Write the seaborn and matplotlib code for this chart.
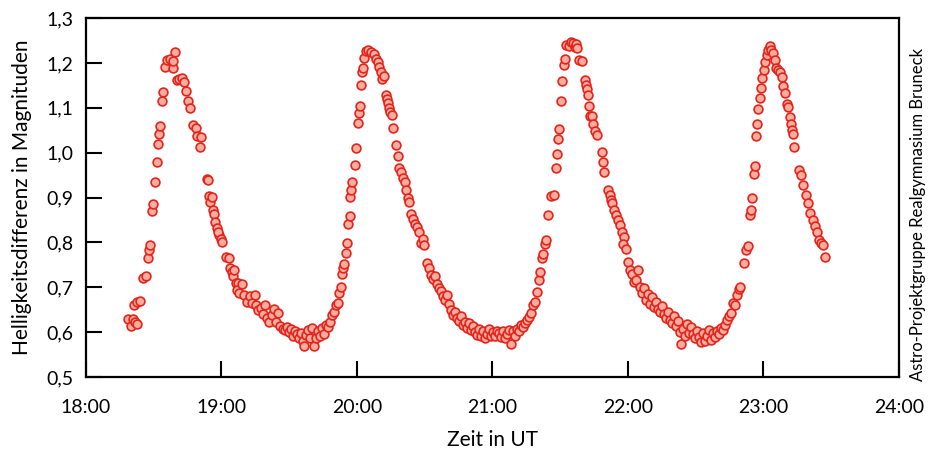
import matplotlib
matplotlib.use("Agg")
import numpy as np
import pandas as pd
import matplotlib.pyplot as plt
import seaborn as sns
from matplotlib import font_manager
from matplotlib.ticker import FuncFormatter

# Minuten nach 18:00 UT
zeit_min = [
    18.6, 19.9, 20.8, 21.7, 22.6, 21.3, 22.6, 23.9, 25.2, 26.6, 27.5, 27.9, 28.3, 29.2, 29.7,
    30.6, 31.5, 31.9, 32.3, 32.8, 33.6, 34.1, 35.0, 35.9, 37.2, 38.5, 39.4, 38.5,
    40.3, 41.2, 42.5, 43.4, 44.3, 45.2, 46.1, 47.4, 48.7, 49.2, 50.5, 50.9, 53.6, 54.0, 54.5,
    54.9, 55.8, 56.2, 56.7, 57.1, 58.0, 58.9, 58.5, 59.8, 60.2, 62.0, 63.3, 63.8, 64.6, 65.1,
    65.5, 66.4, 67.3, 66.9, 67.7, 69.1, 70.0, 71.3, 72.6, 73.5, 74.8, 75.3, 76.2, 77.5, 78.4,
    79.3, 80.1, 81.0, 82.4, 83.2, 84.1, 85.0, 85.9, 87.2, 88.1, 89.0, 89.9, 90.8, 91.7, 92.5,
    93.4, 94.3, 95.2, 96.1, 96.5, 97.4, 98.3, 99.2, 100.1, 101.0, 101.8, 102.7, 103.6, 104.5,
    105.4, 106.3, 107.2, 108.0, 108.9, 109.8, 110.7, 111.6, 112.0, 112.9, 113.4, 113.8, 114.2,
    115.1, 115.6, 116.0, 116.9, 116.9, 117.3, 117.8, 119.1, 119.6, 120.4, 120.9, 121.3, 121.8,
    122.2, 122.7, 123.1, 124.0, 124.9, 126.2,
    127.5, 128.4, 129.3, 129.7, 130.6, 131.1, 131.9, 132.8, 133.3, 133.7, 134.2, 134.6, 135.5,
    135.9, 137.3, 138.2, 138.6, 139.5, 140.4, 141.3, 141.7, 142.6, 143.0, 143.9, 144.8, 145.7,
    146.6, 147.4, 148.3, 149.2, 149.7, 151.0, 151.9, 152.8, 153.6, 154.5, 155.4, 156.3, 157.2,
    158.1, 159.0, 159.8, 160.7, 161.6, 162.5, 163.4, 164.3, 165.2, 166.0, 166.9, 167.8, 168.7,
    169.6, 170.5, 171.4, 172.2, 173.1, 174.0, 174.9, 175.8, 176.7, 177.6, 178.5, 179.3, 180.2,
    181.1, 182.0, 182.9, 183.8, 184.6, 185.5, 186.4, 187.3, 188.2, 189.1, 190.0, 190.8, 191.7,
    192.6, 193.5, 194.4, 195.3, 196.2, 197.0, 197.9, 198.8, 199.7, 200.6, 201.0, 201.9, 202.4,
    203.2, 203.7, 204.6, 205.9, 207.2, 208.1, 208.6, 209.0, 209.4, 210.3, 210.8, 211.7, 212.1,
    212.6, 213.9, 214.8, 215.7, 216.5, 217.0, 217.4,
    218.3, 219.6, 221.0, 221.4, 221.8, 222.3, 222.7, 223.2, 224.1, 224.5, 225.4, 226.3, 228.5,
    229.0, 229.4, 231.1, 232.0, 232.5, 232.9, 233.8, 234.7, 235.6, 236.5, 237.3, 238.2, 237.8,
    239.1, 240.0, 240.9, 241.8, 242.6, 243.5, 244.4, 245.3, 246.2, 247.1, 247.9, 248.8, 249.7,
    250.6, 251.5, 252.4, 253.3, 254.2, 255.0, 255.9, 256.8, 257.7, 258.6, 259.5, 260.4, 261.2,
    262.1, 263.0, 263.5, 264.4, 265.2, 266.1, 267.0, 267.9, 268.8, 269.7, 270.6, 271.4, 272.3,
    273.2, 274.1, 275.0, 275.9, 276.7, 277.6, 278.5, 279.4, 280.3, 281.2, 282.1, 282.9, 283.8,
    284.7, 285.6, 286.5, 287.4, 288.3, 289.1, 289.6, 291.4, 292.2, 293.1, 294.0, 294.5, 294.9,
    295.8, 296.3, 296.7, 297.2, 297.6, 298.5, 299.0, 299.4, 300.3, 300.7, 301.6, 302.0, 302.9,
    303.3, 304.2, 305.1,
    305.5, 306.4, 307.3, 308.2, 308.6, 309.5, 310.4, 310.8, 311.7, 312.2, 312.6, 313.1, 313.5,
    315.7, 316.6, 317.5, 318.8, 319.7, 320.6, 321.9, 322.8, 323.7, 324.6, 325.5, 326.3, 327.2,
]

# Helligkeitsdifferenz in Magnituden
delta_mag = [
    0.629, 0.614, 0.629, 0.623, 0.618, 0.660, 0.667, 0.669, 0.721, 0.725, 0.765, 0.783, 0.794, 0.870, 0.886,
    0.935, 0.979, 1.019, 1.042, 1.059, 1.115, 1.135, 1.191, 1.206, 1.209, 1.189, 1.224, 1.204,
    1.162, 1.164, 1.166, 1.157, 1.137, 1.115, 1.099, 1.062, 1.055, 1.037, 1.013, 1.035, 0.941, 0.939, 0.903,
    0.890, 0.901, 0.872, 0.863, 0.845, 0.832, 0.816, 0.823, 0.808, 0.801, 0.767, 0.765, 0.743, 0.734, 0.725,
    0.738, 0.709, 0.709, 0.694, 0.687, 0.707, 0.683, 0.667, 0.681, 0.665, 0.683, 0.660, 0.649, 0.654, 0.640,
    0.660, 0.631, 0.623, 0.638, 0.652, 0.623, 0.643, 0.614, 0.607, 0.605, 0.611, 0.600, 0.607, 0.591, 0.603,
    0.596, 0.587, 0.598, 0.580, 0.569, 0.594, 0.605, 0.587, 0.609, 0.569, 0.587, 0.603, 0.591, 0.609,
    0.596, 0.616, 0.611, 0.623, 0.638, 0.645, 0.660, 0.665, 0.687, 0.701, 0.730, 0.743, 0.752,
    0.776, 0.799, 0.841, 0.859, 0.901, 0.917, 0.935, 0.972, 1.010, 1.066, 1.088, 1.104, 1.151,
    1.180, 1.189, 1.211, 1.226, 1.229, 1.224,
    1.220, 1.209, 1.202, 1.191, 1.180, 1.164, 1.171, 1.128, 1.119, 1.111, 1.099, 1.091, 1.084,
    1.055, 1.017, 0.992, 0.966, 0.957, 0.943, 0.935, 0.917, 0.899, 0.890, 0.863, 0.852, 0.841,
    0.834, 0.823, 0.799, 0.808, 0.794, 0.754, 0.743, 0.727, 0.718, 0.725, 0.707, 0.698, 0.692,
    0.681, 0.672, 0.683, 0.663, 0.649, 0.638, 0.645, 0.631, 0.625, 0.636, 0.616, 0.623, 0.609,
    0.620, 0.605, 0.614, 0.600, 0.594, 0.607, 0.591, 0.603, 0.587, 0.596, 0.607, 0.591, 0.600,
    0.591, 0.603, 0.598, 0.589, 0.603, 0.587, 0.596, 0.605, 0.574, 0.603, 0.591, 0.607, 0.603,
    0.616, 0.611, 0.620, 0.627, 0.634, 0.643, 0.660, 0.667, 0.689, 0.716, 0.734, 0.765, 0.774,
    0.796, 0.805, 0.861, 0.903, 0.906, 0.966, 0.997, 1.030, 1.053, 1.115, 1.160, 1.195, 1.209,
    1.240, 1.238, 1.247, 1.244, 1.235, 1.242, 1.233,
    1.206, 1.204, 1.162, 1.151, 1.142, 1.128, 1.104, 1.082, 1.082, 1.064, 1.048, 1.039, 1.001,
    0.979, 0.957, 0.917, 0.906, 0.894, 0.888, 0.872, 0.861, 0.850, 0.839, 0.823, 0.812, 0.796,
    0.785, 0.756, 0.738, 0.730, 0.712, 0.716, 0.738, 0.701, 0.687, 0.698, 0.672, 0.685, 0.663,
    0.678, 0.656, 0.667, 0.652, 0.645, 0.658, 0.640, 0.631, 0.645, 0.627, 0.620, 0.636, 0.614,
    0.625, 0.600, 0.574, 0.607, 0.591, 0.618, 0.598, 0.611, 0.596, 0.587, 0.603, 0.589, 0.578,
    0.598, 0.580, 0.591, 0.605, 0.583, 0.598, 0.589, 0.603, 0.596, 0.609, 0.605, 0.616, 0.627,
    0.636, 0.643, 0.665, 0.660, 0.683, 0.696, 0.701, 0.754, 0.783, 0.792, 0.861, 0.872, 0.899,
    0.952, 0.970, 1.037, 1.064, 1.097, 1.122, 1.144, 1.166, 1.184, 1.202, 1.218, 1.229, 1.238,
    1.229, 1.222, 1.206,
    1.189, 1.184, 1.180, 1.169, 1.148, 1.133, 1.108, 1.102, 1.079, 1.064, 1.050, 1.042, 1.013,
    0.961, 0.950, 0.928, 0.906, 0.888, 0.865, 0.850, 0.837, 0.823, 0.805, 0.799, 0.794, 0.767,
]

x_ticks = [18, 19, 20, 21, 22, 23, 24]
y_ticks = [0.5, 0.6, 0.7, 0.8, 0.9, 1.0, 1.1, 1.2, 1.3]

df = pd.DataFrame({"zeit": 18 + np.array(zeit_min) / 60.0, "mag": delta_mag})

sns.set_style("ticks")
installed = {f.name for f in font_manager.fontManager.ttflist}
fam = [f for f in ["Lato", "Open Sans", "DejaVu Sans"] if f in installed]
plt.rcParams["font.family"] = fam
plt.rcParams["text.color"] = "black"
plt.rcParams["axes.labelcolor"] = "black"

fig = plt.figure(figsize=(9.44, 4.5), dpi=100)
ax = fig.add_axes([0.0911, 0.1622, 0.8612, 0.7978])

sns.scatterplot(data=df, x="zeit", y="mag", ax=ax, s=40, color="#f8ad9f",
                edgecolor="#e5231b", linewidth=1.2, zorder=3)

ax.set_xlim(18, 24)
ax.set_ylim(0.5, 1.3)
ax.set_xticks(x_ticks)
ax.set_yticks(y_ticks)
ax.xaxis.set_major_formatter(FuncFormatter(lambda v, p: f"{int(round(v))}:00"))
ax.yaxis.set_major_formatter(FuncFormatter(lambda v, p: f"{v:.1f}".replace(".", ",")))
ax.tick_params(direction="in", length=11.5, width=1.5, labelsize=14, colors="black")
ax.tick_params(axis="x", pad=16)
ax.tick_params(axis="y", pad=9)
for sp in ax.spines.values():
    sp.set_linewidth(1.6)
    sp.set_color("black")
    sp.set_visible(True)

ax.set_xlabel("Zeit in UT", fontsize=15, labelpad=10)
ax.set_ylabel("Helligkeitsdifferenz in Magnituden", fontsize=15, labelpad=10)

fig.text(0.9725, 0.523, "Astro-Projektgruppe Realgymnasium Bruneck", rotation=90,
         ha="center", va="center", fontsize=12)

fig.savefig("out.png", dpi=100)
